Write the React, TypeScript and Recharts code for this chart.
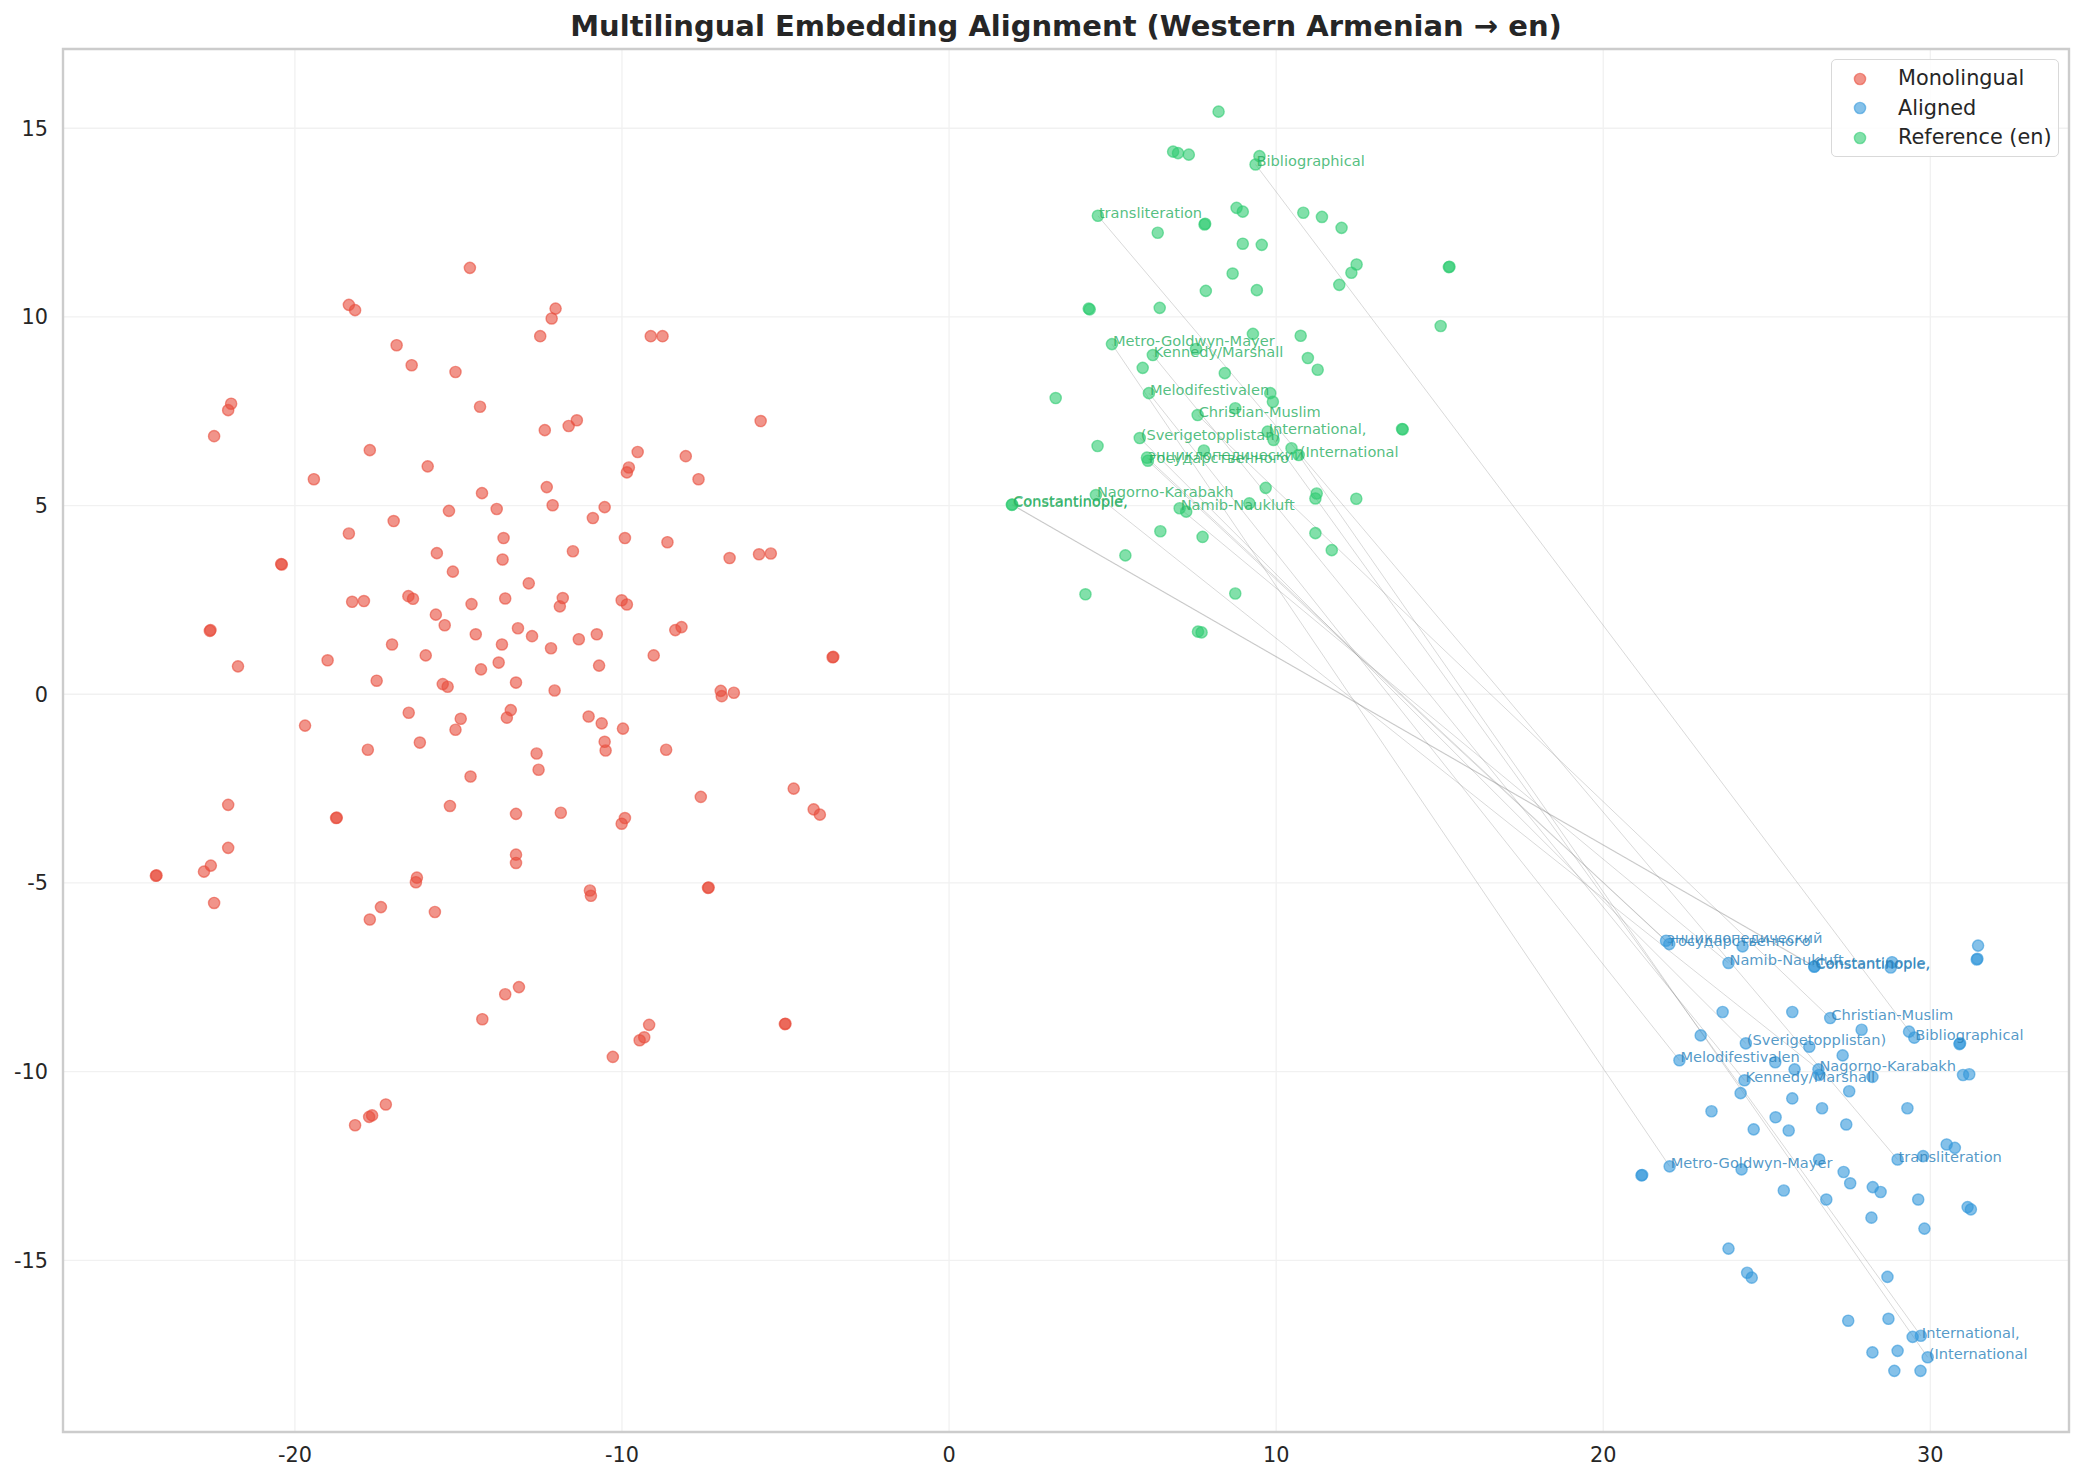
import { ScatterChart, Scatter, XAxis, YAxis, CartesianGrid, ReferenceLine, ReferenceArea, Legend } from "recharts"

const FONT = "DejaVu Sans, Verdana, sans-serif"
const RED = "#e74c3c"
const BLUE = "#3498db"
const GREEN = "#2ecc71"

const xTicks = [-20, -10, 0, 10, 20, 30]
const yTicks = [-15, -10, -5, 0, 5, 10, 15]

// labelled words: reference (en) position and aligned position
const words = [
  "Bibliographical", "transliteration", "Metro-Goldwyn-Mayer", "Kennedy/Marshall", "Melodifestivalen",
  "Christian-Muslim", "International,", "(Sverigetopplistan)", "энциклопедический", "государственного",
  "(International", "Nagorno-Karabakh", "Constantinople,", "Constantinople,", "Namib-Naukluft",
]
const refWordPts: [number, number][] = [
  [9.37, 14.04], [4.55, 12.68], [4.98, 9.28], [6.23, 8.99], [6.11, 7.98],
  [7.6, 7.4], [9.74, 6.96], [5.83, 6.79], [6.05, 6.27], [6.08, 6.19],
  [10.69, 6.34], [4.49, 5.28], [1.92, 5.02], [1.93, 5.03], [7.05, 4.93],
]
const alignedWordPts: [number, number][] = [
  [29.51, -9.1], [29.0, -12.33], [22.03, -12.51], [24.32, -10.23], [22.33, -9.7],
  [26.94, -8.58], [29.71, -17.0], [24.36, -9.25], [21.92, -6.53], [22.02, -6.62],
  [29.92, -17.57], [26.58, -9.94], [26.45, -7.22], [26.46, -7.21], [23.83, -7.12],
]

const monolingualPts: [number, number][] = [
  [-14.65, 11.3], [-18.35, 10.32], [-18.16, 10.18], [-12.03, 10.22], [-12.15, 9.96], [-12.5, 9.49],
  [-9.12, 9.49], [-8.76, 9.49], [-16.89, 9.25], [-16.43, 8.72], [-15.09, 8.54], [-21.95, 7.7],
  [-22.04, 7.53], [-22.47, 6.84], [-14.34, 7.62], [-11.38, 7.26], [-11.63, 7.11], [-12.36, 7.0],
  [-5.76, 7.24], [-17.71, 6.47], [-15.94, 6.04], [-9.52, 6.42], [-8.05, 6.31], [-9.79, 6.01],
  [-9.85, 5.88], [-7.66, 5.7], [-19.42, 5.7], [-12.3, 5.49], [-14.28, 5.33], [-12.12, 5.01],
  [-10.53, 4.96], [-15.29, 4.86], [-13.83, 4.91], [-10.89, 4.67], [-16.98, 4.59], [-18.35, 4.26],
  [-13.62, 4.14], [-9.91, 4.14], [-8.61, 4.03], [-11.5, 3.79], [-15.66, 3.74], [-13.65, 3.57],
  [-6.71, 3.61], [-5.81, 3.71], [-5.45, 3.73], [-20.42, 3.45], [-20.4, 3.44], [-15.17, 3.25],
  [-12.85, 2.94], [-18.25, 2.45], [-17.89, 2.47], [-16.53, 2.6], [-16.39, 2.53], [-14.6, 2.39],
  [-13.57, 2.54], [-11.81, 2.55], [-11.9, 2.33], [-10.01, 2.49], [-9.85, 2.38], [-15.69, 2.11],
  [-15.42, 1.83], [-22.6, 1.68], [-22.58, 1.7], [-14.47, 1.59], [-13.18, 1.75], [-12.75, 1.54],
  [-10.77, 1.59], [-11.32, 1.46], [-8.37, 1.7], [-8.18, 1.78], [-17.03, 1.32], [-13.67, 1.32],
  [-12.17, 1.22], [-16.0, 1.03], [-19.0, 0.9], [-21.74, 0.74], [-13.77, 0.84], [-14.31, 0.66],
  [-10.7, 0.76], [-9.03, 1.03], [-3.56, 0.98], [-3.54, 0.99],
  [-17.5, 0.36], [-15.48, 0.27], [-15.33, 0.2], [-13.24, 0.31], [-12.06, 0.1], [-6.98, 0.09],
  [-6.95, -0.05], [-6.58, 0.04], [-16.52, -0.49], [-14.93, -0.65], [-13.4, -0.42], [-13.52, -0.62],
  [-19.69, -0.83], [-15.09, -0.94], [-11.02, -0.59], [-10.62, -0.77], [-9.97, -0.91], [-16.18, -1.28],
  [-17.77, -1.47], [-10.53, -1.26], [-10.5, -1.49], [-12.61, -1.57], [-8.65, -1.47], [-12.55, -2.0],
  [-14.63, -2.18], [-4.75, -2.5], [-7.59, -2.72], [-4.14, -3.05], [-3.95, -3.19], [-22.04, -2.93],
  [-18.74, -3.28], [-18.72, -3.27], [-15.26, -2.96], [-13.24, -3.17], [-11.87, -3.14], [-9.91, -3.28],
  [-10.01, -3.43], [-22.04, -4.07], [-22.57, -4.54], [-22.78, -4.7], [-24.25, -4.81], [-24.23, -4.8],
  [-13.24, -4.25], [-13.24, -4.47], [-16.27, -4.86], [-16.3, -4.98], [-10.98, -5.2], [-10.95, -5.34],
  [-7.37, -5.13], [-7.35, -5.12], [-22.47, -5.53], [-17.37, -5.64], [-17.71, -5.97], [-15.72, -5.77],
  [-13.15, -7.76], [-13.57, -7.95], [-14.27, -8.61], [-9.17, -8.76], [-9.32, -9.09], [-9.46, -9.17],
  [-5.02, -8.74], [-5.0, -8.73], [-10.28, -9.61], [-17.22, -10.87], [-17.64, -11.16], [-17.73, -11.2],
  [-18.16, -11.42],
]

const alignedPts: [number, number][] = [
  [31.46, -6.66], [31.42, -7.03], [31.44, -7.01], [24.26, -6.68], [28.79, -7.24], [28.83, -7.1],
  [23.65, -8.42], [25.78, -8.42], [27.9, -8.89], [29.35, -8.94], [30.89, -9.27], [30.91, -9.25],
  [22.98, -9.04], [26.3, -9.34], [25.26, -9.75], [27.32, -9.57], [25.85, -9.94], [26.6, -10.09],
  [28.23, -10.14], [31.0, -10.09], [31.19, -10.07], [24.2, -10.57], [25.78, -10.71], [27.52, -10.52],
  [29.3, -10.97], [23.31, -11.05], [26.69, -10.97], [25.27, -11.21], [27.43, -11.4], [24.6, -11.53],
  [25.67, -11.56], [30.5, -11.93], [30.75, -12.02], [26.6, -12.33], [29.78, -12.24], [21.17, -12.75],
  [21.19, -12.74], [24.23, -12.59], [27.35, -12.66], [27.55, -12.96], [28.24, -13.06], [28.48, -13.19],
  [25.52, -13.15], [26.82, -13.39], [29.63, -13.39], [31.14, -13.59], [31.24, -13.65], [28.2, -13.87],
  [29.82, -14.16], [23.83, -14.69], [24.4, -15.33], [24.54, -15.46], [28.69, -15.44], [27.49, -16.6],
  [28.72, -16.55], [29.46, -17.03], [28.23, -17.44], [29.0, -17.4], [28.9, -17.93], [29.7, -17.93],
]

const referencePts: [number, number][] = [
  [8.24, 15.44], [6.85, 14.38], [7.0, 14.34], [7.33, 14.3], [9.49, 14.26], [8.79, 12.89],
  [8.98, 12.79], [7.81, 12.45], [7.83, 12.47], [6.38, 12.23], [10.83, 12.76], [11.4, 12.65],
  [12.0, 12.36], [8.98, 11.94], [9.56, 11.91], [12.46, 11.39], [12.3, 11.17], [11.93, 10.85],
  [15.28, 11.32], [15.3, 11.33], [8.67, 11.15], [7.85, 10.69], [9.41, 10.71], [4.27, 10.22],
  [4.3, 10.2], [6.44, 10.24], [15.03, 9.76], [9.29, 9.55], [10.75, 9.5], [7.55, 9.15],
  [10.97, 8.91], [11.27, 8.6], [5.92, 8.65], [8.43, 8.51], [3.26, 7.85], [9.82, 7.98],
  [9.9, 7.75], [8.75, 7.58], [13.85, 7.03], [13.87, 7.02], [9.92, 6.74], [4.54, 6.58],
  [7.79, 6.46], [10.47, 6.52], [9.68, 5.47], [7.25, 4.84], [9.18, 5.06], [11.24, 5.32],
  [11.2, 5.19], [12.45, 5.18], [6.46, 4.32], [7.75, 4.17], [11.2, 4.27], [11.7, 3.82],
  [5.39, 3.68], [4.17, 2.65], [8.75, 2.67], [7.61, 1.66], [7.72, 1.64],
]

const toRows = (pts: [number, number][]) => pts.map(([x, y]) => ({ x, y }))
const monoData = toRows(monolingualPts)
const alignedData = [
  ...toRows(alignedPts),
  ...alignedWordPts.map(([x, y], i) => ({ x, y, word: words[i] })),
]
const refData = [
  ...toRows(referencePts),
  ...refWordPts.map(([x, y], i) => ({ x, y, word: words[i] })),
]

const legendItems = [
  { name: "Monolingual", color: RED },
  { name: "Aligned", color: BLUE },
  { name: "Reference (en)", color: GREEN },
]

const makeDot = (color: string, textColor: string) => (props: any) => {
  const { cx, cy, payload } = props
  return (
    <g>
      <circle cx={cx} cy={cy} r={5.6} fill={color} fillOpacity={0.6} stroke={color} strokeOpacity={0.6} strokeWidth={1.4} />
      {payload.word && (
        <text x={cx + 1} y={cy + 2} fontSize={14.6} fontFamily={FONT} fill={textColor} fillOpacity={0.8}>
          {payload.word}
        </text>
      )}
    </g>
  )
}

const renderLegend = () => (
  <div
    style={{
      width: 228,
      height: 98,
      boxSizing: "border-box",
      border: "1.5px solid #d9d9d9",
      borderRadius: 5,
      background: "rgba(255,255,255,0.85)",
      paddingTop: 4,
      fontFamily: FONT,
      fontSize: 20.8,
      color: "#262626",
    }}
  >
    {legendItems.map((it) => (
      <div key={it.name} style={{ display: "flex", alignItems: "center", height: 29.5 }}>
        <svg width={14} height={14} style={{ marginLeft: 21 }}>
          <circle cx={7} cy={7} r={5.6} fill={it.color} fillOpacity={0.6} stroke={it.color} strokeOpacity={0.6} strokeWidth={1.4} />
        </svg>
        <span style={{ marginLeft: 31, lineHeight: 1 }}>{it.name}</span>
      </div>
    ))}
  </div>
)

const tickStyle = { fill: "#262626", fontSize: 20.8, fontFamily: FONT }

export default function App() {
  return (
    <div style={{ position: "absolute", left: 0, top: 0, width: 2085, height: 1483, background: "#fff" }}>
      <ScatterChart width={2085} height={1483} margin={{ top: 49, right: 16, bottom: 0, left: 0 }}>
        <CartesianGrid stroke="#f1f1f1" strokeWidth={1.3} />
        <XAxis
          type="number"
          dataKey="x"
          domain={[-27.09, 34.24]}
          ticks={xTicks}
          allowDataOverflow
          height={51}
          axisLine={false}
          tickLine={false}
          tickSize={6}
          tickMargin={9}
          tick={tickStyle}
        />
        <YAxis
          type="number"
          dataKey="y"
          domain={[-19.55, 17.1]}
          ticks={yTicks}
          allowDataOverflow
          width={63}
          axisLine={false}
          tickLine={false}
          tickSize={6}
          tickMargin={9}
          tick={tickStyle}
        />
        <ReferenceArea x1={-27.09} x2={34.24} y1={-19.55} y2={17.1} fill="none" stroke="#cccccc" strokeWidth={2.4} ifOverflow="visible" />
        <Scatter name="Monolingual" data={monoData} fill={RED} shape={makeDot(RED, RED)} isAnimationActive={false} />
        <Scatter name="Aligned" data={alignedData} fill={BLUE} shape={makeDot(BLUE, "#2980b9")} isAnimationActive={false} />
        <Scatter name="Reference (en)" data={refData} fill={GREEN} shape={makeDot(GREEN, "#27ae60")} isAnimationActive={false} />
        {words.map((w, i) => (
          <ReferenceLine
            key={`seg-${i}`}
            segment={[
              { x: refWordPts[i][0], y: refWordPts[i][1] },
              { x: alignedWordPts[i][0], y: alignedWordPts[i][1] },
            ]}
            stroke="#808080"
            strokeOpacity={0.3}
            strokeWidth={1}
          />
        ))}
        <Legend
          layout="vertical"
          align="center"
          verticalAlign="middle"
          content={renderLegend}
          wrapperStyle={{ top: 59, left: 1831, width: 228, height: 98 }}
        />
        <text x={1066} y={36} textAnchor="middle" fontSize={29} fontWeight="bold" fontFamily={FONT} fill="#262626">
          Multilingual Embedding Alignment (Western Armenian → en)
        </text>
      </ScatterChart>
    </div>
  )
}
